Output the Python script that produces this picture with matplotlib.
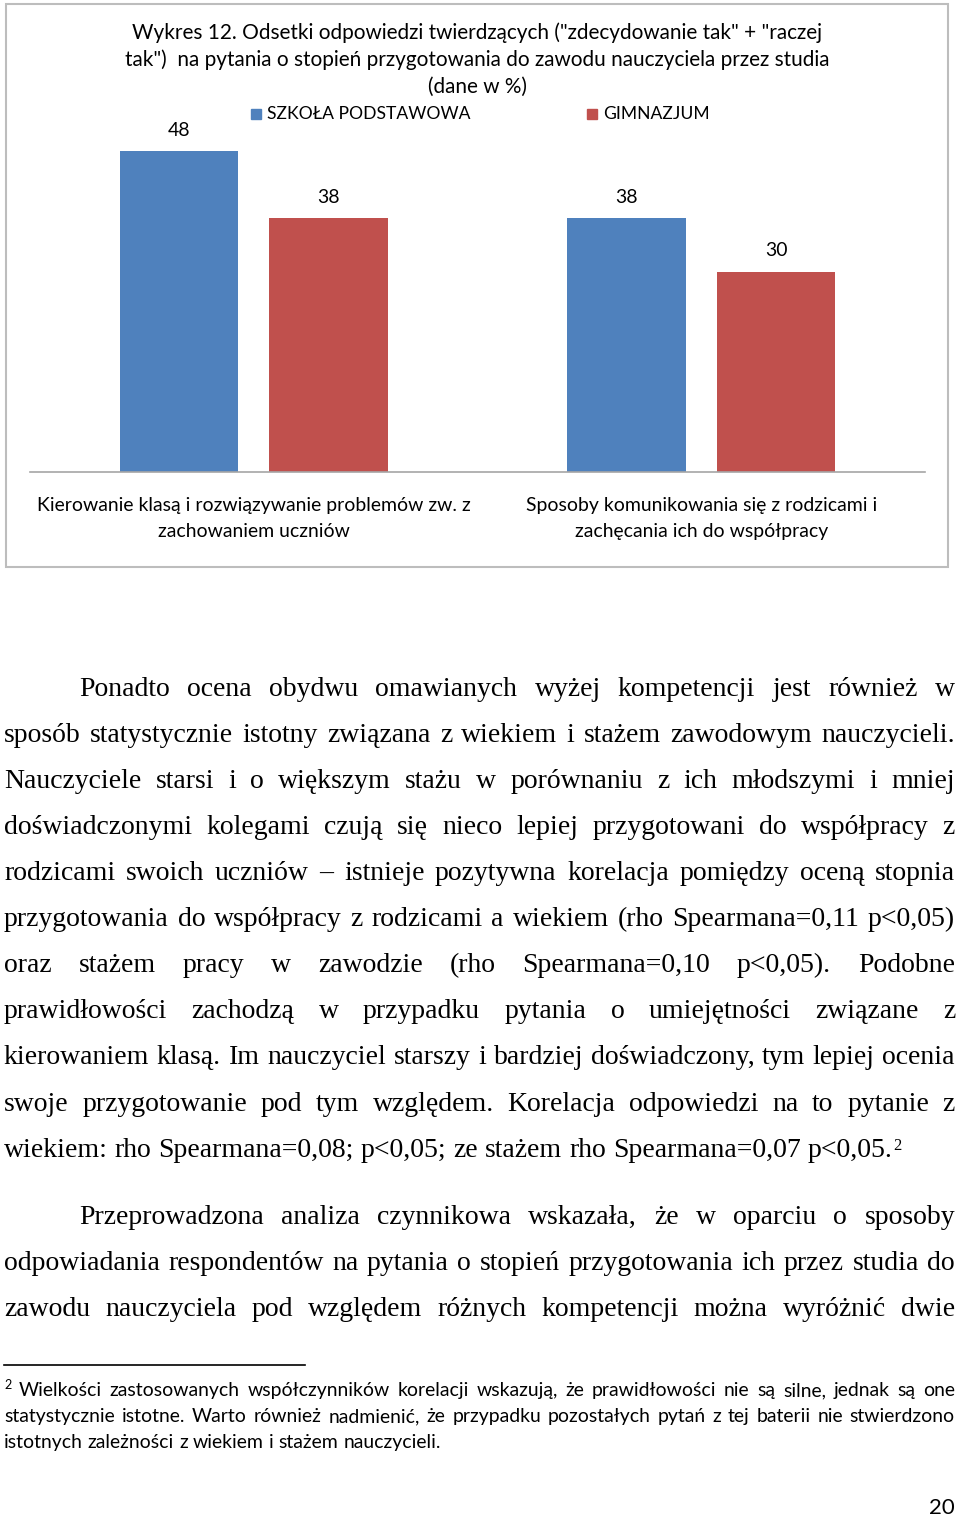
import matplotlib
matplotlib.use("Agg")
import matplotlib.pyplot as plt
from matplotlib.patches import Rectangle
from matplotlib.lines import Line2D

# chart data
categories = ["Kierowanie klasą i rozwiązywanie problemów zw. z\nzachowaniem uczniów",
              "Sposoby komunikowania się z rodzicami i\nzachęcania ich do współpracy"]
series_names = ["SZKOŁA PODSTAWOWA", "GIMNAZJUM"]
szkola = [48, 38]
gimnazjum = [38, 30]
colors = ["#4F81BD", "#C0504D"]

title_lines = ['Wykres 12. Odsetki odpowiedzi twierdzących ("zdecydowanie tak" + "raczej',
               'tak")  na pytania o stopień przygotowania do zawodu nauczyciela przez studia',
               '(dane w %)']

# page text, one entry per printed line: (text, indented, justified)
body = [
    ("Ponadto ocena obydwu omawianych wyżej kompetencji jest również w", True, True),
    ("sposób statystycznie istotny związana z wiekiem i stażem zawodowym nauczycieli.", False, True),
    ("Nauczyciele starsi i o większym stażu w porównaniu z ich młodszymi i mniej", False, True),
    ("doświadczonymi kolegami czują się nieco lepiej przygotowani do współpracy z", False, True),
    ("rodzicami swoich uczniów – istnieje pozytywna korelacja pomiędzy oceną stopnia", False, True),
    ("przygotowania do współpracy z rodzicami a wiekiem (rho Spearmana=0,11 p<0,05)", False, True),
    ("oraz stażem pracy w zawodzie (rho Spearmana=0,10 p<0,05). Podobne", False, True),
    ("prawidłowości zachodzą w przypadku pytania o umiejętności związane z", False, True),
    ("kierowaniem klasą. Im nauczyciel starszy i bardziej doświadczony, tym lepiej ocenia", False, True),
    ("swoje przygotowanie pod tym względem. Korelacja odpowiedzi na to pytanie z", False, True),
    ("wiekiem: rho Spearmana=0,08; p<0,05; ze stażem rho Spearmana=0,07 p<0,05.", False, False),
    ("Przeprowadzona analiza czynnikowa wskazała, że w oparciu o sposoby", True, True),
    ("odpowiadania respondentów na pytania o stopień przygotowania ich przez studia do", False, True),
    ("zawodu nauczyciela pod względem różnych kompetencji można wyróżnić dwie", False, True),
]
body_y = [696, 742, 788, 834, 880, 926, 972, 1018, 1064, 1111, 1157, 1224, 1270, 1316]

footnote = [
    ("Wielkości zastosowanych współczynników korelacji wskazują, że prawidłowości nie są silne, jednak są one", True),
    ("statystycznie istotne. Warto również nadmienić, że przypadku pozostałych pytań z tej baterii nie stwierdzono", True),
    ("istotnych zależności z wiekiem i stażem nauczycieli.", False),
]
foot_y = [1396, 1422, 1448]

W, H = 960, 1517
fig = plt.figure(figsize=(9.6, 15.17), dpi=100)
renderer = fig.canvas.get_renderer()
SANS = "Lato"
SERIF = "Liberation Serif"


def fx(x):
    return x / W


def fy(y):
    return 1 - y / H


def text_w(s, size, family):
    t = fig.text(0, 0, s, fontsize=size, family=family)
    w = t.get_window_extent(renderer).width
    t.remove()
    return w


def fit(s, target, family):
    return 10 * target / text_w(s, 10, family)


def put_line(line, x0, x1, ybase, size, family, justify=True):
    words = line.split(" ")
    widths = [text_w(w, size, family) for w in words]
    if justify and len(words) > 1:
        gap = (x1 - x0 - sum(widths)) / (len(words) - 1)
    else:
        gap = text_w("a a", size, family) - text_w("aa", size, family)
    x = x0
    for w, wd in zip(words, widths):
        fig.text(fx(x), fy(ybase), w, fontsize=size, family=family,
                 ha="left", va="baseline", color="black")
        x += wd + gap
    return x - gap


# ---- chart ----
base_y, top_y = 472, 138
ax = fig.add_axes([fx(30), fy(base_y), (925 - 30) / W, (base_y - top_y) / H])
x = range(len(categories))
bw, off = 0.264, 0.167
b1 = ax.bar([i - off for i in x], szkola, bw, color=colors[0])
b2 = ax.bar([i + off for i in x], gimnazjum, bw, color=colors[1])
ax.set_xlim(-0.5, 1.5)
ax.set_ylim(0, (base_y - top_y) / 6.68)
for s in ["top", "left", "right"]:
    ax.spines[s].set_visible(False)
ax.spines["bottom"].set_color("#a6a6a6")
ax.spines["bottom"].set_linewidth(1.2)
ax.set_xticks([])
ax.set_yticks([])
ax.patch.set_alpha(0)

lab_size = fit("Kierowanie klasą i rozwiązywanie problemów zw. z", 432, SANS)
ax.bar_label(b1, padding=9, fontsize=lab_size, family=SANS)
ax.bar_label(b2, padding=9, fontsize=lab_size, family=SANS)

for i, cat in enumerate(categories):
    cx = 30 + (i + 0.5) * (925 - 30) / 2
    for j, part in enumerate(cat.split("\n")):
        fig.text(fx(cx), fy(506 + 26 * j), part, fontsize=lab_size, family=SANS,
                 ha="center", va="center")

title_size = fit(title_lines[0], 694, SANS)
for j, t in enumerate(title_lines):
    fig.text(fx(477), fy(33 + 27 * j), t, fontsize=title_size, family=SANS,
             ha="center", va="center")

# legend
leg_size = fit(series_names[0], 202, SANS)
for name, col, lx in zip(series_names, colors, [251, 587]):
    fig.patches.append(Rectangle((fx(lx), fy(119)), 10 / W, 10 / H,
                                 transform=fig.transFigure, color=col))
    fig.text(fx(lx + 16), fy(114), name, fontsize=leg_size, family=SANS,
             ha="left", va="center")

# chart frame
fig.patches.append(Rectangle((fx(6), fy(567)), (948 - 6) / W, (567 - 4) / H,
                             transform=fig.transFigure, fill=False,
                             edgecolor="#bdbdbd", linewidth=1.5))

# ---- body text ----
body_size = fit(body[10][0], 886, SERIF)
for (line, indent, just), yb in zip(body, body_y):
    x0 = 79 if indent else 4
    end = put_line(line, x0, 955, yb, body_size, SERIF, just)
    if not just:
        fig.text(fx(end + 1), fy(yb - 7), "2", fontsize=body_size * 0.6,
                 family=SERIF, ha="left", va="baseline")

# ---- footnote ----
fig.lines.append(Line2D([fx(4), fx(305)], [fy(1365), fy(1365)],
                        transform=fig.transFigure, color="black", linewidth=1.2))
foot_size = fit(footnote[2][0], 436, SANS)
fig.text(fx(4), fy(foot_y[0] - 7), "2", fontsize=foot_size * 0.65, family=SANS,
         ha="left", va="baseline")
for k, ((line, just), yb) in enumerate(zip(footnote, foot_y)):
    x0 = 19 if k == 0 else 4
    put_line(line, x0, 955, yb, foot_size, SANS, just)

fig.text(fx(955), fy(1514), "20", fontsize=foot_size * 1.15, family=SANS,
         ha="right", va="baseline")

fig.savefig("out.png", dpi=100)
